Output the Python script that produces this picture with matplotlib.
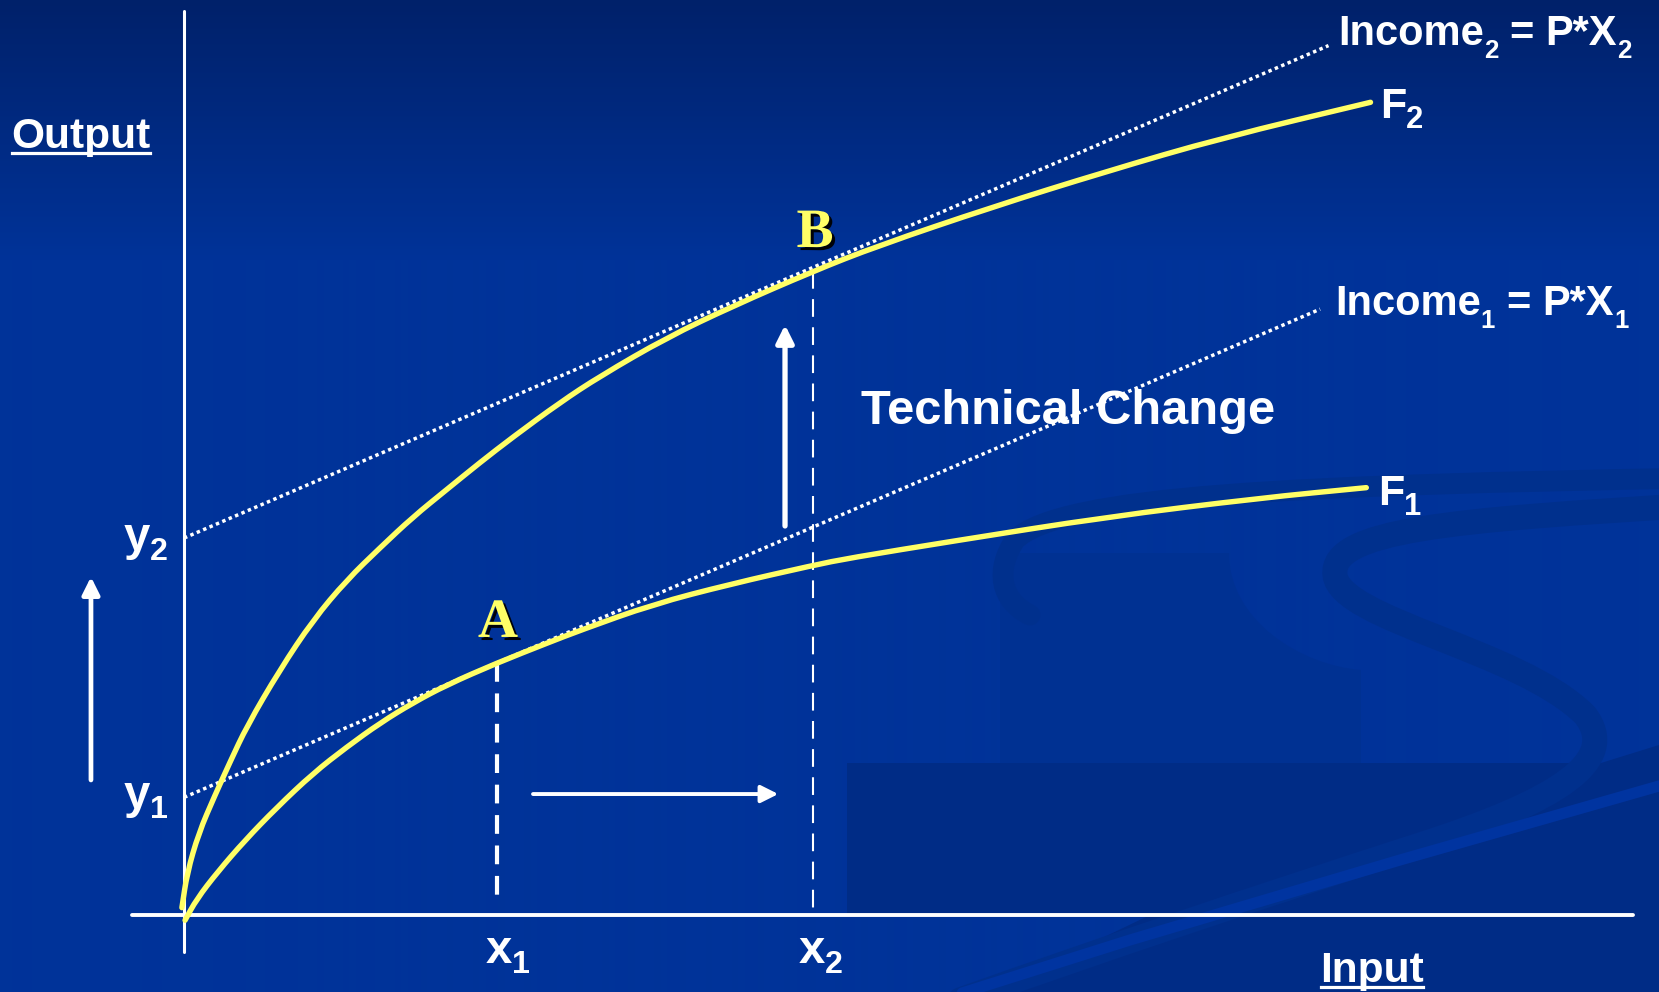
import numpy as np
import matplotlib
matplotlib.use("Agg")
import matplotlib.pyplot as plt
from matplotlib.patches import PathPatch, Polygon
from matplotlib.path import Path
from matplotlib.lines import Line2D
from matplotlib.transforms import IdentityTransform, ScaledTranslation
import matplotlib.patheffects as pe
import matplotlib.colors as mcolors

# ---------------- data (Input / Output units) ----------------
f1_x = [0.01, 0.12, 0.32, 0.58, 0.88, 1.23, 1.55, 1.87, 2.18, 2.50, 2.98, 3.46, 3.77,
        4.47, 5.20, 5.99, 6.34, 7.32, 8.78, 10.24, 11.26]
f1_y = [-0.05, 0.15, 0.41, 0.71, 1.02, 1.35, 1.60, 1.83, 2.02, 2.19, 2.40, 2.59, 2.71,
        2.96, 3.15, 3.33, 3.40, 3.56, 3.79, 3.97, 4.07]

f2_x = [-0.02, 0.03, 0.14, 0.29, 0.44, 0.60, 0.91, 1.23, 1.55, 1.87, 2.18, 2.50, 2.82,
        3.13, 3.58, 3.96, 4.60, 5.23, 5.99, 6.60, 7.69, 8.78, 9.88, 11.30]
f2_y = [0.07, 0.40, 0.78, 1.13, 1.46, 1.80, 2.33, 2.81, 3.19, 3.50, 3.79, 4.05, 4.31,
        4.55, 4.88, 5.13, 5.50, 5.80, 6.13, 6.37, 6.74, 7.08, 7.40, 7.74]

income1_x = [0.0, 10.82]
income1_y = [1.12, 5.77]
income2_x = [0.0, 10.90]
income2_y = [3.59, 8.28]

point_a = (2.98, 2.40)
point_b = (5.99, 6.13)

# ---------------- style ----------------
W, H, DPI = 1659, 992, 100
BG = "#003399"
YELLOW = "#FFFF66"

plt.rcParams["font.family"] = ["Liberation Sans", "DejaVu Sans"]
plt.rcParams["font.weight"] = "bold"

fig = plt.figure(figsize=(W / DPI, H / DPI), dpi=DPI)

# ---------------- background (decorative, pixel space) ----------------
bg = fig.add_axes([0, 0, 1, 1], zorder=0)
bg.set_xlim(0, W)
bg.set_ylim(H, 0)
bg.axis("off")
top = np.array(mcolors.to_rgb("#00216a"))
mid = np.array(mcolors.to_rgb(BG))
rows = np.arange(H)
t = np.clip(rows / 260.0, 0, 1)[:, None]
grad = (top * (1 - t) + mid * t)[:, None, :]
bg.imshow(grad, extent=(0, W, H, 0), aspect="auto", interpolation="bilinear", zorder=0)

MED = "#003192"
DARK = "#002c86"
BAND = "#00308d"
# medium body of the watermark
body = Path([(1000, 553), (1229, 553), (1229, 620), (1300, 665), (1361, 670),
             (1361, 763), (1000, 763), (1000, 553)],
            [Path.MOVETO, Path.LINETO, Path.CURVE4, Path.CURVE4, Path.CURVE4,
             Path.LINETO, Path.LINETO, Path.CLOSEPOLY])
bg.add_patch(PathPatch(body, color=MED, lw=0, zorder=1))
# dark base
bg.add_patch(Polygon([(847, 763), (1601, 763), (1659, 745), (1659, 992), (990, 992),
                      (1150, 915), (847, 915)], closed=True, color=DARK, lw=0, zorder=1))
# S loop
verts = [(1700, 505), (1450, 520), (1330, 530), (1335, 575),
         (1340, 620), (1520, 650), (1585, 715),
         (1620, 760), (1560, 800), (1420, 845),
         (1250, 900), (1100, 950), (960, 1000)]
codes = [Path.MOVETO] + [Path.CURVE4] * 12
bg.add_patch(PathPatch(Path(verts, codes), fill=False, ec=BAND, lw=18,
                       capstyle="round", zorder=2))
# upper-left loop
verts2 = [(1700, 478), (1300, 485), (1060, 495), (1015, 540),
          (995, 570), (1000, 600), (1030, 615)]
codes2 = [Path.MOVETO] + [Path.CURVE4] * 6
bg.add_patch(PathPatch(Path(verts2, codes2), fill=False, ec=BAND, lw=15,
                       capstyle="round", zorder=2))
# light band lower right
bg.plot([1680, 1400, 1130, 940], [780, 860, 940, 1000], color="#0034a0", lw=8,
        solid_capstyle="round", zorder=2)

# ---------------- main diagram axes ----------------
PX = 105.0
OX, OY = 184.0, 915.0
ax = fig.add_axes([0, 0, 1, 1], zorder=1)
ax.patch.set_alpha(0)
ax.set_xlim(-OX / PX, (W - OX) / PX)
ax.set_ylim((OY - H) / PX, OY / PX)
ax.axis("off")


def smooth_path(xs, ys):
    """Quadratic-Bezier rendering through the midpoints of the read points."""
    p = np.column_stack([xs, ys])
    verts = [p[0], (p[0] + p[1]) / 2]
    codes = [Path.MOVETO, Path.LINETO]
    for i in range(1, len(p) - 1):
        verts += [p[i], (p[i] + p[i + 1]) / 2]
        codes += [Path.CURVE3, Path.CURVE3]
    verts.append(p[-1])
    codes.append(Path.LINETO)
    return Path(verts, codes)


# axes lines
ax.plot([0, 0], [-0.352, 8.61], color="white", lw=2.2, solid_capstyle="round", zorder=3)
ax.plot([-0.495, 13.80], [0, 0], color="white", lw=2.8, solid_capstyle="round", zorder=3)

# income lines (dotted)
ax.plot(income1_x, income1_y, color="white", lw=2.5, ls=(0, (1.0, 1.0)), zorder=4)
ax.plot(income2_x, income2_y, color="white", lw=2.5, ls=(0, (1.0, 1.0)), zorder=4)

# production functions
for xs, ys in ((f1_x, f1_y), (f2_x, f2_y)):
    ax.add_patch(PathPatch(smooth_path(xs, ys), fill=False, ec=YELLOW, lw=3.9,
                           capstyle="round", joinstyle="round", zorder=5))

# dashed drop lines
ax.plot([point_a[0], point_a[0]], [point_a[1], 0.10], color="white", lw=3.0,
        ls=(0, (4.5, 2.8)), zorder=3)
ax.plot([point_b[0], point_b[0]], [point_b[1], 0.0], color="white", lw=1.5,
        ls=(0, (8.5, 5.0)), zorder=3)

# arrows
arrow_kw = dict(arrowstyle="-|>", color="white", shrinkA=0, shrinkB=0, mutation_scale=26)
ax.annotate("", xy=(-0.886, 3.22), xytext=(-0.886, 1.286),
            arrowprops=dict(lw=3.4, **arrow_kw), zorder=6)
ax.annotate("", xy=(5.724, 5.62), xytext=(5.724, 3.705),
            arrowprops=dict(lw=3.8, **arrow_kw), zorder=6)
ax.annotate("", xy=(5.66, 1.152), xytext=(3.324, 1.152),
            arrowprops=dict(lw=2.8, **arrow_kw), zorder=6)

# ---------------- text ----------------
renderer = fig.canvas.get_renderer()


def rich(x, y, parts, size, ratio, drop):
    """Draw text pieces; parts = list of (string, kind) with kind in {'n','s','sp'}."""
    off = 0.0
    for s, kind in parts:
        if kind == "sp":
            off += 0.278 * size * DPI / 72.0
            continue
        fs = size * ratio if kind == "s" else size
        dy = -drop * size if kind == "s" else 0.0
        tr = ax.transData + ScaledTranslation(off / DPI, dy / 72.0, fig.dpi_scale_trans)
        tt = ax.text(x, y, s, fontsize=fs, color="white", fontweight="bold",
                     va="baseline", ha="left", transform=tr, zorder=7)
        off += tt.get_window_extent(renderer).width


rich(10.99, 8.286, [("Income", "n"), ("2", "s"), ("", "sp"), ("=", "n"), ("", "sp"),
                    ("P*X", "n"), ("2", "s")], 30, 0.62, 0.32)
rich(10.96, 5.714, [("Income", "n"), ("1", "s"), ("", "sp"), ("=", "n"), ("", "sp"),
                    ("P*X", "n"), ("1", "s")], 30, 0.62, 0.32)
rich(11.39, 7.59, [("F", "n"), ("2", "s")], 31, 0.72, 0.24)
rich(11.37, 3.905, [("F", "n"), ("1", "s")], 31, 0.72, 0.24)
rich(2.876, -0.457, [("x", "n"), ("1", "s")], 34, 0.68, 0.21)
rich(5.857, -0.457, [("x", "n"), ("2", "s")], 34, 0.68, 0.21)
rich(-0.571, 1.019, [("y", "n"), ("1", "s")], 34, 0.68, 0.21)
rich(-0.571, 3.476, [("y", "n"), ("2", "s")], 34, 0.68, 0.21)

txt = dict(color="white", fontweight="bold", va="baseline", ha="left", zorder=7)
ax.text(6.45, 4.676, "Technical Change", fontsize=35.2, **txt)
t_out = ax.text(-1.643, 7.305, "Output", fontsize=30.5, **txt)
t_in = ax.text(10.82, -0.638, "Input", fontsize=30.5, **txt)

shadow = [pe.SimplePatchShadow(offset=(2.2, -2.2), shadow_rgbFace="black", alpha=0.95), pe.Normal()]
for (px, py), lab in zip([(2.99, 2.648), (6.01, 6.362)], ["A", "B"]):
    ax.text(px, py, lab, fontsize=40, color=YELLOW, fontweight="bold",
            family=["Liberation Serif", "DejaVu Serif"], ha="center", va="baseline",
            path_effects=shadow, zorder=7)

# underlines
for tt in (t_out, t_in):
    bb = tt.get_window_extent(renderer)
    x0, y0 = tt.get_position()
    base_disp = ax.transData.transform((x0, y0))[1]
    yline = base_disp - 5
    fig.add_artist(Line2D([bb.x0 + 1, bb.x1 - 1], [yline, yline], color="white",
                          lw=2.3, transform=IdentityTransform(), zorder=8))

fig.savefig("out.png", dpi=DPI)
